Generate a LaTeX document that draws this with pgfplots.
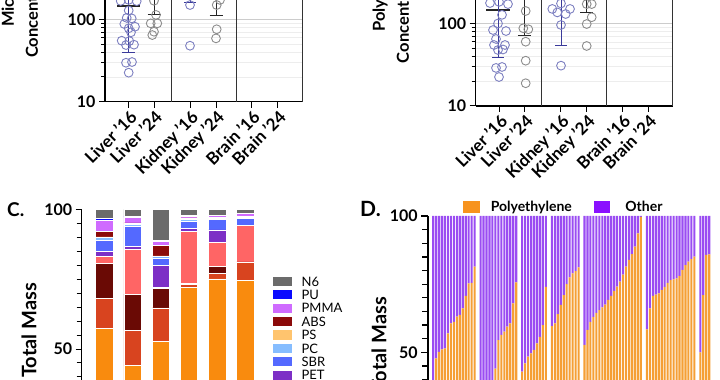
\documentclass[border=0pt]{standalone}
\usepackage{pgfplots}
\pgfplotsset{compat=1.18}
\usepackage{pgfplotstable}
\usepackage{fontspec}
\setmainfont{Lato}
\definecolor{cBlueC}{HTML}{7C7FC0}
\definecolor{cGrayC}{HTML}{8C8C8C}
\definecolor{cBlueE}{HTML}{3A3A9A}
\definecolor{cPE}{HTML}{F98B0E}
\definecolor{cPP}{HTML}{D8441F}
\definecolor{cN66}{HTML}{6A0A05}
\definecolor{cPVC}{HTML}{FF6565}
\definecolor{cPET}{HTML}{7D2FC6}
\definecolor{cSBR}{HTML}{5469FF}
\definecolor{cPC}{HTML}{86BDFF}
\definecolor{cPS}{HTML}{FFC46E}
\definecolor{cABS}{HTML}{8B0A0A}
\definecolor{cPMMA}{HTML}{CF6BFF}
\definecolor{cPU}{HTML}{0A0AFF}
\definecolor{cN6}{HTML}{6B6B6B}
\definecolor{cDPE}{HTML}{F59F35}
\definecolor{cDOT}{HTML}{9A4CF2}
\definecolor{cDPEs}{HTML}{F7931E}
\definecolor{cDOTs}{HTML}{8A10FF}

\pgfplotstableread{
s pe other
0 35.0 65.0
1 47.8 52.2
2 50.2 49.8
3 51.1 48.9
4 51.5 48.5
5 57.0 43.0
6 60.6 39.4
7 61.2 38.8
8 63.1 36.9
9 63.7 36.3
10 66.1 33.9
11 70.7 29.3
12 75.3 24.7
13 75.5 24.5
14 81.4 18.6
16 28.0 72.0
17 31.0 69.0
18 34.0 66.0
19 36.0 64.0
20 38.0 62.0
21 44.0 56.0
22 54.5 45.5
23 56.4 43.6
24 57.6 42.4
25 59.4 40.6
26 60.6 39.4
27 68.0 32.0
28 75.7 24.3
30 42.9 57.1
31 46.0 54.0
32 48.4 51.6
33 49.6 50.4
34 50.9 49.1
35 53.3 46.7
36 55.7 44.3
37 60.0 40.0
38 74.0 26.0
40 59.6 40.4
41 60.6 39.4
42 64.0 36.0
43 67.4 32.6
44 71.0 29.0
45 75.0 25.0
46 77.5 22.5
47 79.0 21.0
48 79.8 20.2
49 81.2 18.8
51 52.7 47.3
52 58.2 41.8
53 61.2 38.8
54 63.0 37.0
55 64.5 35.5
56 65.5 34.5
57 66.5 33.5
58 67.5 32.5
59 69.2 30.8
60 70.7 29.3
61 72.5 27.5
62 74.1 25.9
63 75.9 24.1
64 78.5 21.5
65 81.4 18.6
66 83.9 16.1
67 86.0 14.0
68 88.8 11.2
69 93.6 6.4
70 99.7 0.3
72 58.4 41.6
73 66.1 33.9
74 70.7 29.3
75 71.2 28.8
76 71.6 28.4
77 72.9 27.1
78 74.0 26.0
79 75.5 24.5
80 76.5 23.5
81 76.8 23.2
82 77.1 22.9
83 78.0 22.0
84 80.2 19.8
85 82.0 18.0
86 83.3 16.7
87 84.2 15.8
88 85.1 14.9
90 50.0 50.0
91 71.0 29.0
92 85.7 14.3
93 85.9 14.1
}\dataD

\pgfplotsset{
  scatterstyle/.style={
    scale only axis,
    xmin=0, xmax=197, ymin=10, ymax=300,
    axis lines*=left,
    axis line style={line width=1.3pt, black},
    tick align=outside,
    major tick length=6pt, minor tick length=4pt,
    tick style={black, line width=1pt},
    xtick={23.7,49,85,111,146.7,172.7},
    xticklabels={Liver ’16, Liver ’24, Kidney ’16, Kidney ’24, Brain ’16, Brain ’24},
    xticklabel style={rotate=45, anchor=north east, font=\bfseries\fontsize{17}{19}\selectfont, inner sep=1pt},
    ytick={10,100,1000},
    yticklabels={10,100,1000},
    yticklabel style={font=\bfseries\fontsize{16}{18}\selectfont},
    ymajorgrids, yminorgrids,
    major grid style={black!20, line width=0.8pt},
    minor grid style={black!7, line width=0.6pt},
    extra x ticks={66,131,197},
    extra x tick labels={},
    extra x tick style={xmajorgrids=true, major grid style={black!80, line width=1pt}, major tick length=0pt},
  },
  pts/.style={only marks, mark=o, mark size=4.4pt, mark options={line width=0.9pt}},
}

\begin{document}
\begin{tikzpicture}
\path[use as bounding box] (0pt,0pt) rectangle (720pt,380pt);
\begin{scope}
\clip (0pt,0pt) rectangle (720pt,380pt);

% ---------------- Panel A ----------------
\begin{semilogyaxis}[scatterstyle, at={(105pt,278.3pt)}, anchor=south west, width=197pt, height=121.7pt]
\addplot[pts, draw=cBlueC] coordinates {(15.7,167) (23.7,172) (31.7,166) (23.7,128) (21.7,104) (26.7,102.6) (19.3,87.7) (30,81.3) (23.7,77.8) (26,69.6) (16.7,55) (24.3,54.4) (29,49.2) (21,48.7) (21,29.7) (27,30.3) (23.7,22.5)};
\addplot[pts, draw=cGrayC] coordinates {(49,168) (51,113) (45.7,89.3) (52.3,89.3) (49,70.7) (47.3,64.4)};
\addplot[pts, draw=cBlueC] coordinates {(85,149) (85,47.8)};
\addplot[pts, draw=cGrayC] coordinates {(111.7,149) (115,172) (111.7,75.7) (111,58.7)};
\addplot[cBlueE, line width=1pt] coordinates {(23.7,40) (23.7,300)};
\addplot[cBlueE, line width=1pt] coordinates {(17.2,40) (30.2,40)};
\addplot[black!85, line width=1.6pt] coordinates {(12.2,145) (35.2,145)};
\addplot[black!85, line width=1pt] coordinates {(49,113) (49,300)};
\addplot[black!85, line width=1pt] coordinates {(42.5,113) (55.5,113)};
\addplot[cBlueE, line width=1pt] coordinates {(85,159) (85,300)};
\addplot[cBlueE, line width=1pt] coordinates {(79,159) (91,159)};
\addplot[black!85, line width=1pt] coordinates {(111,112) (111,300)};
\addplot[black!85, line width=1pt] coordinates {(104.5,112) (117.5,112)};
\end{semilogyaxis}

% ---------------- Panel B ----------------
\begin{semilogyaxis}[scatterstyle, at={(475.7pt,274pt)}, anchor=south west, width=197pt, height=121.6pt]
\addplot[pts, draw=cBlueC] coordinates {(14.3,178) (23.3,184) (32.3,173) (26.3,128) (22.3,100.5) (17.3,83.7) (30.3,81.4) (20.3,65.2) (18.3,55.1) (29.3,55.1) (22.3,47.9) (27.3,48.6) (20.3,29.0) (26.3,29.8) (23.3,22.5)};
\addplot[pts, draw=cGrayC] coordinates {(50,142.6) (47.6,87.9) (52.6,85.5) (50,60.4) (50,35.5) (50,18.9)};
\addplot[pts, draw=cBlueC] coordinates {(76.6,151) (81.6,137) (90,131) (94.3,151) (85.3,176) (85.3,96.4) (85.3,30.9)};
\addplot[pts, draw=cGrayC] coordinates {(111,173) (116,173) (116,119.7) (111,99) (111,53.6)};
\addplot[black!85, line width=1.6pt] coordinates {(10.6,145.6) (34.6,145.6)};
\addplot[cBlueE, line width=1pt] coordinates {(22.6,39.1) (22.6,300)};
\addplot[cBlueE, line width=1pt] coordinates {(16.6,39.1) (28.6,39.1)};
\addplot[black!85, line width=1pt] coordinates {(48.6,71.5) (48.6,300)};
\addplot[black!85, line width=1pt] coordinates {(42.1,71.5) (55.1,71.5)};
\addplot[cBlueE, line width=1pt] coordinates {(85.3,53.6) (85.3,300)};
\addplot[cBlueE, line width=1pt] coordinates {(79.3,53.6) (91.3,53.6)};
\addplot[black!85, line width=1pt] coordinates {(111,136) (111,300)};
\addplot[black!85, line width=1pt] coordinates {(104.5,136) (117.5,136)};
\end{semilogyaxis}

% ---------------- Panel C ----------------
\begin{axis}[at={(81.7pt,-108.7pt)}, anchor=south west, scale only axis,
  width=186.1pt, height=279.4pt,
  xmin=-0.81, xmax=5.8, ymin=0, ymax=100,
  ybar stacked, bar width=17.5pt,
  axis lines*=left, axis line style={line width=1.5pt, black},
  xtick=\empty, ytick={0,50,100}, yticklabels={0,50,100},
  minor y tick num=9,
  tick align=outside, major tick length=6pt, minor tick length=5pt,
  tick style={black, line width=1pt},
  yticklabel style={font=\bfseries\fontsize{16}{18}\selectfont},
  reverse legend,
  legend cell align=left,
  legend image code/.code={\path[#1,draw=none] (0pt,-4.6pt) rectangle (18.4pt,4.6pt);},
  legend style={at={(1.012,0.770)}, anchor=north west, draw=none, fill=none,
    font=\fontsize{13}{13}\selectfont, row sep=2.0pt,
    nodes={inner sep=1pt, text height=9.4pt, text depth=0pt},
    /tikz/every odd column/.append style={column sep=9pt}},
  every axis plot/.append style={draw=white, line width=0.6pt},
]
\addplot[fill=cPE] coordinates {(0,57.4) (1,44.0) (2,52.6) (3,72.0) (4,75.1) (5,74.5)};
\addlegendentry{PE}
\addplot[fill=cPP] coordinates {(0,10.6) (1,12.6) (2,12.1) (3,1.1) (4,1.9) (5,6.4)};
\addlegendentry{PP}
\addplot[fill=cN66] coordinates {(0,12.5) (1,13.0) (2,7.0) (3,0.3) (4,2.5) (5,0.3)};
\addlegendentry{N66}
\addplot[fill=cPVC] coordinates {(0,2.5) (1,16.0) (2,0.4) (3,18.6) (4,8.7) (5,12.9)};
\addlegendentry{PVC}
\addplot[fill=cPET] coordinates {(0,2.0) (1,1.0) (2,7.9) (3,1.2) (4,4.4) (5,0.2)};
\addlegendentry{PET}
\addplot[fill=cSBR] coordinates {(0,3.8) (1,7.3) (2,2.6) (3,2.6) (4,3.7) (5,2.5)};
\addlegendentry{SBR}
\addplot[fill=cPC] coordinates {(0,1.0) (1,0.6) (2,0.4) (3,0.6) (4,0.5) (5,0.4)};
\addlegendentry{PC}
\addplot[fill=cPS] coordinates {(0,0.3) (1,0.5) (2,0.3) (3,0.5) (4,0.4) (5,0.2)};
\addlegendentry{PS}
\addplot[fill=cABS] coordinates {(0,1.9) (1,0.1) (2,3.9) (3,0.0) (4,0.0) (5,0.0)};
\addlegendentry{ABS}
\addplot[fill=cPMMA] coordinates {(0,4.1) (1,2.1) (2,1.3) (3,0.7) (4,0.6) (5,1.0)};
\addlegendentry{PMMA}
\addplot[fill=cPU] coordinates {(0,0.6) (1,0.4) (2,0.4) (3,0.2) (4,0.0) (5,0.2)};
\addlegendentry{PU}
\addplot[fill=cN6] coordinates {(0,3.3) (1,2.4) (2,11.1) (3,2.2) (4,2.2) (5,1.4)};
\addlegendentry{N6}
\end{axis}

% ---------------- Panel D ----------------
\begin{axis}[at={(428.3pt,-108.7pt)}, anchor=south west, scale only axis,
  width=302.9pt, height=272.7pt,
  xmin=-1.6, xmax=100.4, ymin=0, ymax=100,
  ybar stacked, bar width=2.1pt,
  axis lines*=left, axis line style={line width=1.7pt, black},
  xtick=\empty, ytick={0,50,100}, yticklabels={0,50,100},
  minor y tick num=9,
  tick align=outside, major tick length=7pt, minor tick length=6pt,
  tick style={black, line width=1.2pt},
  yticklabel style={font=\bfseries\fontsize{16}{18}\selectfont},
  legend columns=2,
  legend image code/.code={\path[#1,draw=none] (0pt,-5.8pt) rectangle (16.6pt,5.8pt);},
  legend style={at={(0.1046,1.066)}, anchor=north west, draw=none, fill=none,
    font=\bfseries\fontsize{14}{14}\selectfont,
    nodes={inner sep=1pt},
    /tikz/every odd column/.append style={column sep=10pt},
    /tikz/every even column/.append style={column sep=21pt}},
]
\addplot[fill=cDPE, draw=none, forget plot] table[x=s, y=pe] {\dataD};
\addplot[fill=cDOT, draw=none, forget plot] table[x=s, y=other] {\dataD};
\addlegendimage{fill=cDPEs, draw=none}
\addlegendentry{Polyethylene}
\addlegendimage{fill=cDOTs, draw=none}
\addlegendentry{\hspace{4pt}Other}
\end{axis}

% ---------------- labels ----------------
\node[rotate=90, anchor=west, inner sep=0pt, font=\bfseries\fontsize{16.5}{18}\selectfont] at (9pt,353pt) {Microplastic};
\node[rotate=90, anchor=west, inner sep=0pt, font=\bfseries\fontsize{16.5}{18}\selectfont] at (33pt,322pt) {Concentration (µg/g)};
\node[rotate=90, anchor=west, inner sep=0pt, font=\bfseries\fontsize{16.5}{18}\selectfont] at (380pt,348.3pt) {Polyethylene};
\node[rotate=90, anchor=west, inner sep=0pt, font=\bfseries\fontsize{16.5}{18}\selectfont] at (404pt,316.7pt) {Concentration (µg/g)};
\node[rotate=90, anchor=east, inner sep=0pt, font=\bfseries\fontsize{20}{22}\selectfont] at (29pt,97pt) {\% Total Mass};
\node[rotate=90, anchor=east, inner sep=0pt, font=\bfseries\fontsize{20}{22}\selectfont] at (379pt,83pt) {\% Total Mass};
\node[anchor=base west, inner sep=0pt, font=\bfseries\fontsize{19}{20}\selectfont] at (7pt,163.3pt) {C.};
\node[anchor=base west, inner sep=0pt, font=\bfseries\fontsize{21}{22}\selectfont] at (360pt,163pt) {D.};
\end{scope}
\end{tikzpicture}
\end{document}
